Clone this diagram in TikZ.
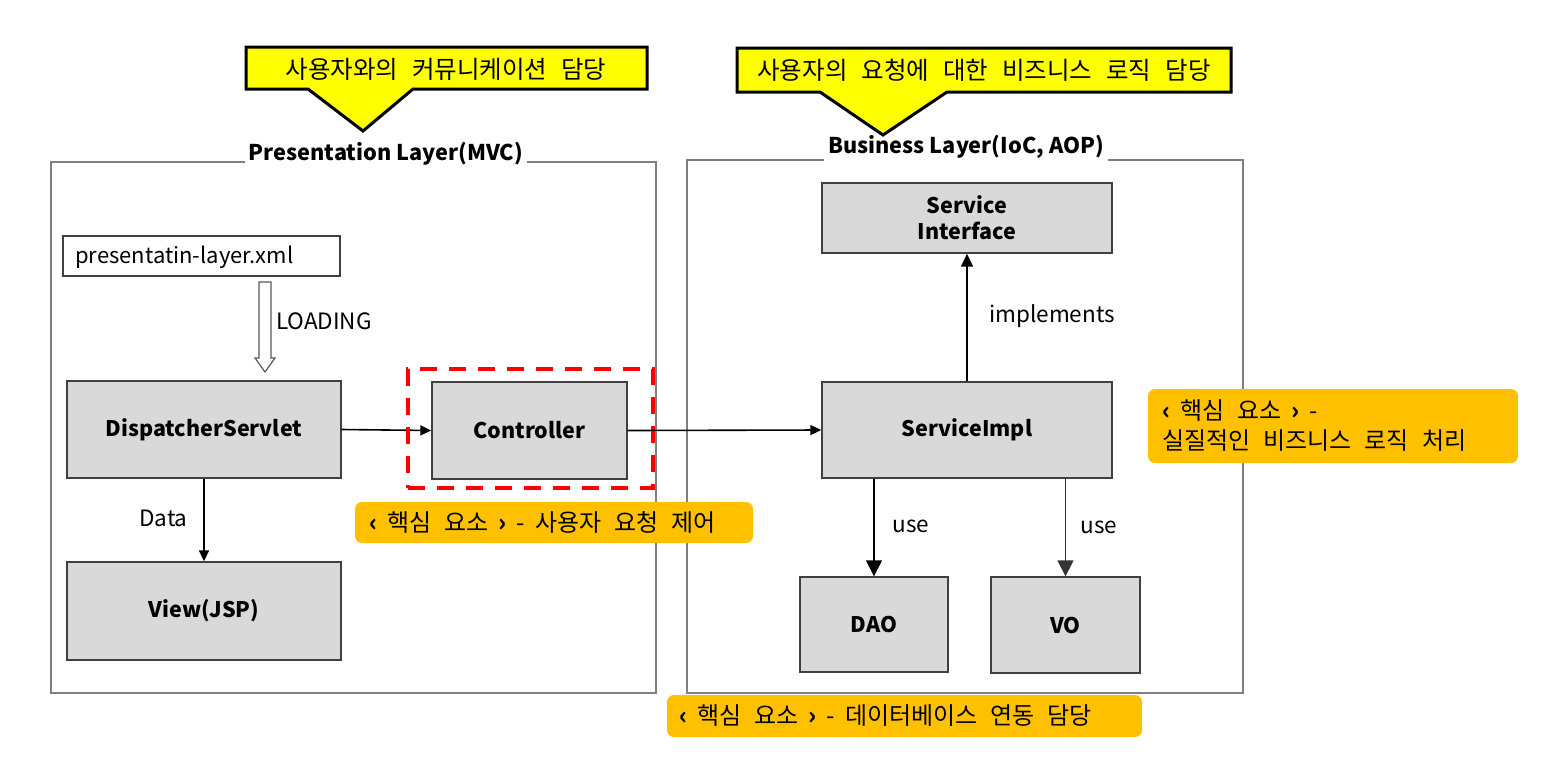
\documentclass[tikz,border=0pt]{standalone}
\usepackage{fontspec}
\setmainfont{Noto Sans CJK KR}
\usetikzlibrary{arrows.meta}
\definecolor{boxgray}{HTML}{D9D9D9}
\definecolor{noteor}{HTML}{FFC000}
\definecolor{callyel}{HTML}{FFFF00}
\definecolor{framegray}{HTML}{7F7F7F}
\newcommand\callfont{\fontsize{24.5}{28}\selectfont\spaceskip=14pt\relax}
\newcommand\notefont{\fontsize{24}{30}\selectfont\spaceskip=13pt\relax}
\begin{document}
\begin{tikzpicture}[x=1pt,y=-1pt,
  box/.style={draw=black!75, line width=1.4pt, fill=boxgray, font=\fontsize{21.5}{26}\selectfont\bfseries, align=center, inner sep=0pt},
  frame/.style={draw=framegray, line width=1.4pt},
  ftitle/.style={fill=white, font=\fontsize{21.7}{26}\selectfont\bfseries, inner sep=4pt},
  note/.style={fill=noteor, rounded corners=7pt, inner sep=0pt},
  notetext/.style={font=\notefont, anchor=west, align=left, inner sep=0pt},
  callout/.style={fill=callyel, draw=black, line width=3pt, line join=miter},
  calltext/.style={font=\callfont, inner sep=0pt},
  conn/.style={draw=black, line width=1.6pt, -{Triangle[length=11pt,width=10pt]}},
  bigconn/.style={draw=black, line width=1.6pt, -{Triangle[length=16pt,width=16pt]}},
  lbl/.style={font=\fontsize{22.5}{26}\selectfont, inner sep=0pt}
]
\useasboundingbox (0,0) rectangle (1551,764);

% frames
\draw[frame] (51,162) rectangle (656,693);
\node[ftitle] (pt) at (386,154) {Presentation Layer(MVC)};
\draw[frame] (687,160) rectangle (1243,693);
\node[ftitle] (bt) at (966,147) {Business Layer(IoC, AOP)};

% callouts
\draw[callout] (246,47) -- (647,47) -- (647,89) -- (413,89) -- (363,131) -- (308,89) -- (246,89) -- cycle;
\node[calltext] (c1) at (446,69) {사용자와의 커뮤니케이션 담당};
\draw[callout] (737,48) -- (1231,48) -- (1231,92) -- (947,92) -- (883,135) -- (820,92) -- (737,92) -- cycle;
\node[calltext] (c2) at (984,70) {사용자의 요청에 대한 비즈니스 로직 담당};

% presentation layer
\node[draw=black!75, line width=1.4pt, fill=white, minimum width=277pt, minimum height=40pt, inner sep=0pt] (xml) at (201.5,256) {};
\node[lbl, anchor=west, font=\fontsize{22}{26}\selectfont] (xmlt) at (75,257) {presentatin-layer.xml};

\node[box, minimum width=274pt, minimum height=97pt] (ds) at (204,429.5) {DispatcherServlet};
\node[box, minimum width=195pt, minimum height=97pt] (ctrl) at (529.5,430.5) {Controller};
\node[box, minimum width=274pt, minimum height=98pt] (view) at (204,611) {View(JSP)};

\coordinate (la) at (265,282);
\coordinate (lb) at (265,372);
\draw[draw=black!65, line width=1.2pt, fill=white, line join=miter]
  ([xshift=-6pt]la) -- ([xshift=6pt]la) -- ([xshift=6pt,yshift=14pt]lb) -- ([xshift=10pt,yshift=14pt]lb)
  -- (lb) -- ([xshift=-10pt,yshift=14pt]lb) -- ([xshift=-6pt,yshift=14pt]lb) -- cycle;
\node[lbl, anchor=west] (load) at (276,321) {LOADING};

\draw[conn] (ds.east) -- (ctrl.west);
\draw[conn] (ds.south) -- (view.north);
\node[lbl, anchor=west] (data) at (139,518) {Data};

\node[draw=red, line width=4pt, dash pattern=on 17pt off 12pt, minimum width=245pt, minimum height=119pt, inner sep=0pt] (red) at (530.5,428.5) {};

% business layer
\node[box, minimum width=290pt, minimum height=70pt] (si) at (967,218) {Service\\Interface};
\node[box, minimum width=290pt, minimum height=96pt] (impl) at (967,430) {ServiceImpl};
\node[box, minimum width=148pt, minimum height=95pt] (dao) at (874,624.5) {DAO};
\node[box, minimum width=149pt, minimum height=96pt] (vo) at (1065.5,625) {VO};

\draw[conn] (ctrl.east) -- (impl.west);
\draw[conn, -{Triangle[length=13pt,width=12pt]}] (impl.north) -- (si.south);
\node[lbl] (impl-l) at (1052,316) {implements};
\draw[bigconn] (impl.south -| dao.north) -- (dao.north);
\draw[bigconn, draw=black!80] (impl.south -| vo.north) -- (vo.north);
\node[lbl] (use1) at (911,526) {use};
\node[lbl] (use2) at (1099,527) {use};

% notes
\node[note, minimum width=398pt, minimum height=41pt] (n1) at (554,522.5) {};
\node[notetext] (n1t) at (369,522.5) {\textbf{‹}\hspace{10pt}핵심 요소\hspace{10pt}\textbf{›}\hspace{10pt}-\hspace{10pt}사용자 요청 제어};
\node[note, minimum width=370pt, minimum height=74pt] (n2) at (1333,426) {};
\node[notetext] (n2t) at (1162,426) {\textbf{‹}\hspace{10pt}핵심 요소\hspace{10pt}\textbf{›}\hspace{10pt}-\\실질적인 비즈니스 로직 처리};
\node[note, minimum width=475pt, minimum height=42pt] (n3) at (904.5,716) {};
\node[notetext] (n3t) at (679,716) {\textbf{‹}\hspace{10pt}핵심 요소\hspace{10pt}\textbf{›}\hspace{10pt}-\hspace{10pt}데이터베이스 연동 담당};
\end{tikzpicture}
\end{document}
